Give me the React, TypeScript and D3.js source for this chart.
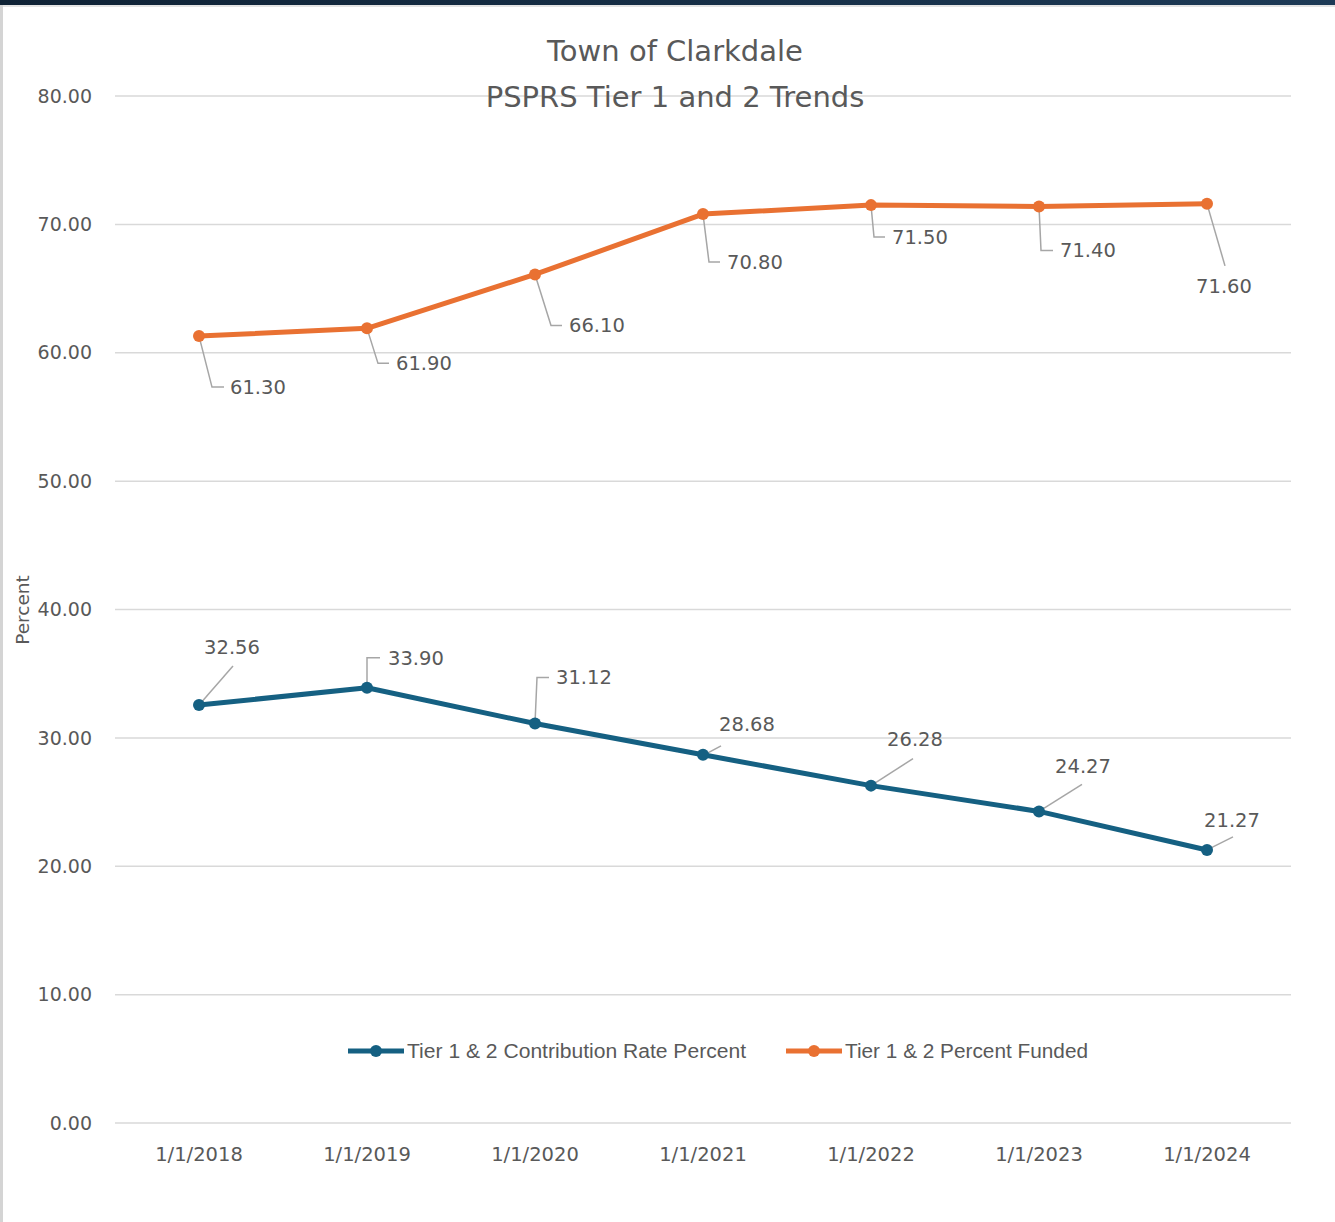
import React from "react";
import * as d3 from "d3";

const dates = ["1/1/2018", "1/1/2019", "1/1/2020", "1/1/2021", "1/1/2022", "1/1/2023", "1/1/2024"];
const contribution = [32.56, 33.9, 31.12, 28.68, 26.28, 24.27, 21.27];
const funded = [61.3, 61.9, 66.1, 70.8, 71.5, 71.4, 71.6];
const yTicks = [0, 10, 20, 30, 40, 50, 60, 70, 80];

// label placement (offset from the point): [text dx, text dy, anchor, leader]
type Lbl = { dx: number; dy: number; anchor: string; lead: [number, number][] };
const fundedLabels: Lbl[] = [
  { dx: 31, dy: 51, anchor: "start", lead: [[0, 0], [13, 51], [25, 51]] },
  { dx: 29, dy: 35, anchor: "start", lead: [[0, 0], [11, 35], [22, 35]] },
  { dx: 34, dy: 51, anchor: "start", lead: [[0, 0], [16, 51], [27, 51]] },
  { dx: 24, dy: 48, anchor: "start", lead: [[0, 0], [6, 48], [17, 48]] },
  { dx: 21, dy: 32, anchor: "start", lead: [[0, 0], [3, 32], [14, 32]] },
  { dx: 21, dy: 44, anchor: "start", lead: [[0, 0], [2, 44], [14, 44]] },
  { dx: 17, dy: 82, anchor: "middle", lead: [[0, 0], [18, 62]] },
];
const contribLabels: Lbl[] = [
  { dx: 33, dy: -58, anchor: "middle", lead: [[0, 0], [34, -39]] },
  { dx: 21, dy: -30, anchor: "start", lead: [[0, 0], [0, -30], [13, -30]] },
  { dx: 21, dy: -46, anchor: "start", lead: [[0, 0], [2, -46], [14, -46]] },
  { dx: 44, dy: -31, anchor: "middle", lead: [[3, -1], [18, -9]] },
  { dx: 44, dy: -46, anchor: "middle", lead: [[0, 0], [42, -27]] },
  { dx: 44, dy: -45, anchor: "middle", lead: [[0, 0], [43, -27]] },
  { dx: 25, dy: -30, anchor: "middle", lead: [[0, 0], [26, -13]] },
];

const BLUE = "#156082";
const ORANGE = "#E97132";
const TEXT = "#595959";
const FONT = "'DejaVu Sans', Verdana, sans-serif";

export default function App() {
  const W = 1335;
  const H = 1222;
  const x = d3.scaleBand().domain(dates).range([115, 1291]);
  const y = d3.scaleLinear().domain([0, 80]).range([1123, 96]);
  const cx = (d: string) => (x(d) as number) + x.bandwidth() / 2;
  const line = d3
    .line<number>()
    .x((_, i) => cx(dates[i]))
    .y((v) => y(v));

  const series = [
    { vals: contribution, color: BLUE, labels: contribLabels },
    { vals: funded, color: ORANGE, labels: fundedLabels },
  ];

  return (
    <div style={{ position: "absolute", left: 0, top: 0 }}>
      <svg width={W} height={H} style={{ display: "block", background: "#fff" }} fontFamily={FONT}>
        <defs>
          <linearGradient id="topbar" x1="0" x2="1">
            <stop offset="0" stopColor="#0f2235" />
            <stop offset="1" stopColor="#1d3a56" />
          </linearGradient>
        </defs>
        <rect x={0} y={0} width={W} height={H} fill="#fff" />
        <rect x={0} y={0} width={W} height={5} fill="url(#topbar)" />
        <rect x={0} y={5} width={W} height={2} fill="#e4e4e4" />
        <rect x={0} y={5} width={3} height={H} fill="#d4d4d4" />

        {/* title */}
        <text x={675} y={61} textAnchor="middle" fontSize={29} fill={TEXT}>
          Town of Clarkdale
        </text>

        {/* grid + y ticks */}
        {yTicks.map((t) => (
          <g key={t}>
            <line x1={115} x2={1291} y1={y(t)} y2={y(t)} stroke="#d9d9d9" strokeWidth={1.5} />
            <text x={92} y={y(t)} dy="0.35em" textAnchor="end" fontSize={19} fill={TEXT}>
              {t.toFixed(2)}
            </text>
          </g>
        ))}

        <text x={675} y={107} textAnchor="middle" fontSize={29} fill={TEXT}>
          PSPRS Tier 1 and 2 Trends
        </text>

        {/* x labels */}
        {dates.map((d) => (
          <text key={d} x={cx(d)} y={1161} textAnchor="middle" fontSize={19.5} fill={TEXT}>
            {d}
          </text>
        ))}

        <text
          transform="translate(29,610) rotate(-90)"
          textAnchor="middle"
          fontSize={18.5}
          fill={TEXT}
        >
          Percent
        </text>

        {/* leaders */}
        {series.map((s, si) =>
          s.vals.map((v, i) => {
            const px = cx(dates[i]);
            const py = y(v);
            const pts = s.labels[i].lead.map(([a, b]) => `${px + a},${py + b}`).join(" ");
            return (
              <polyline key={`l${si}-${i}`} points={pts} fill="none" stroke="#a6a6a6" strokeWidth={1.5} />
            );
          })
        )}

        {/* lines and markers */}
        {series.map((s, si) => (
          <g key={`s${si}`}>
            <path d={line(s.vals) as string} fill="none" stroke={s.color} strokeWidth={5} strokeLinejoin="round" />
            {s.vals.map((v, i) => (
              <circle key={i} cx={cx(dates[i])} cy={y(v)} r={6} fill={s.color} />
            ))}
          </g>
        ))}

        {/* data labels */}
        {series.map((s, si) =>
          s.vals.map((v, i) => {
            const l = s.labels[i];
            return (
              <text
                key={`t${si}-${i}`}
                x={cx(dates[i]) + l.dx}
                y={y(v) + l.dy}
                dy="0.35em"
                textAnchor={l.anchor}
                fontSize={19.5}
                fill={TEXT}
              >
                {v.toFixed(2)}
              </text>
            );
          })
        )}

        {/* legend */}
        {[
          { x0: 348, color: BLUE, label: "Tier 1 & 2 Contribution Rate Percent", len: 339 },
          { x0: 786, color: ORANGE, label: "Tier 1 & 2 Percent Funded", len: 243 },
        ].map((e) => (
          <g key={e.label}>
            <line x1={e.x0} x2={e.x0 + 56} y1={1051} y2={1051} stroke={e.color} strokeWidth={5} />
            <circle cx={e.x0 + 28} cy={1051} r={6} fill={e.color} />
            <text
              x={e.x0 + 59}
              y={1051}
              dy="0.35em"
              fontSize={20}
              fill={TEXT}
              fontFamily="'Liberation Sans Narrow', 'Liberation Sans', sans-serif"
              textLength={e.len}
              lengthAdjust="spacingAndGlyphs"
            >
              {e.label}
            </text>
          </g>
        ))}
      </svg>
    </div>
  );
}
